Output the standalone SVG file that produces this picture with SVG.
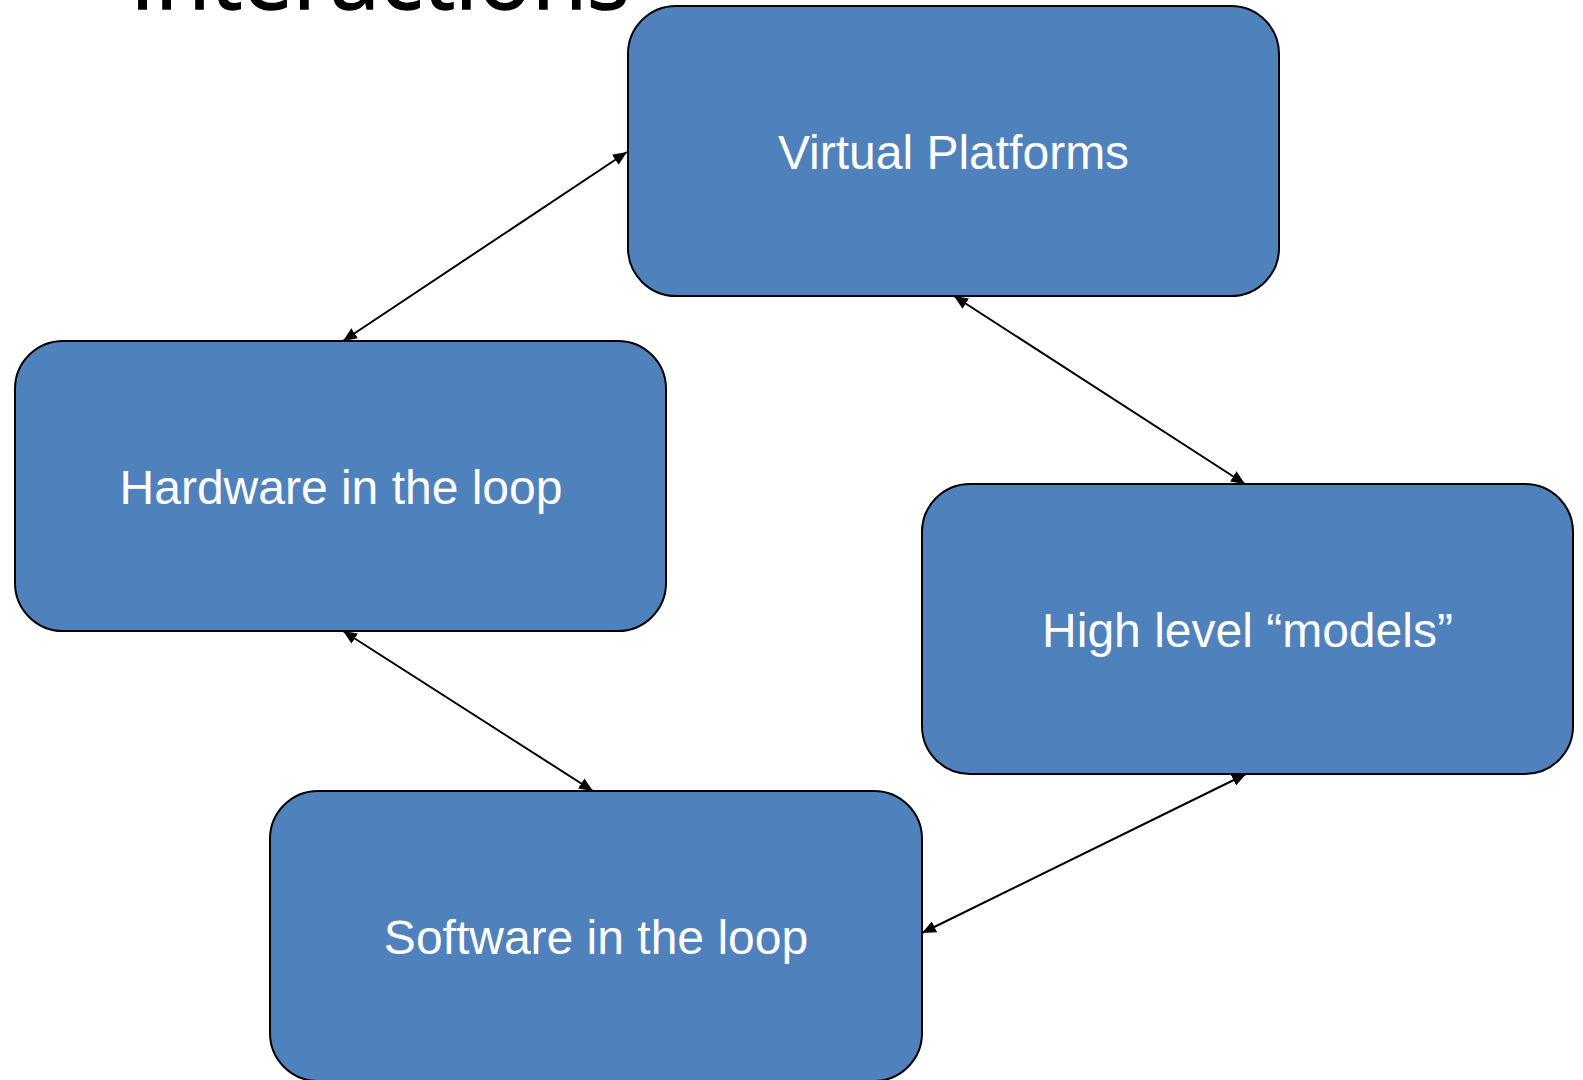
<svg xmlns="http://www.w3.org/2000/svg" width="1583" height="1080" viewBox="0 0 1583 1080">
  <defs>
    <style>
      .box { fill: #4F81BD; stroke: #000; stroke-width: 2; }
      .label { fill: #fff; font-family: "Liberation Sans", Arial, sans-serif; font-size: 48px; text-anchor: middle; }
      .title { fill: #000; stroke: #000; stroke-width: 1.5; font-family: "Open Sans", "Liberation Sans", sans-serif; font-size: 94px; }
      .link { fill: none; stroke: #000; stroke-width: 2; marker-start: url(#arrow); marker-end: url(#arrow); }
    </style>
    <marker id="arrow" markerUnits="userSpaceOnUse" viewBox="0 0 14 12" refX="14" refY="6" markerWidth="14" markerHeight="12" orient="auto-start-reverse">
      <path d="M0,0 L14,6 L0,12 Z" fill="#000"/>
    </marker>
  </defs>

  <rect width="1583" height="1080" fill="#fff"/>

  <!-- page heading, mostly above the visible area -->
  <text class="title" x="130" y="9" textLength="500" lengthAdjust="spacingAndGlyphs">Interactions</text>

  <g id="node-virtual-platforms">
    <rect class="box" x="628" y="6" width="651" height="290" rx="48" ry="48"/>
    <text class="label" x="953.5" y="169">Virtual Platforms</text>
  </g>

  <g id="node-hardware-in-the-loop">
    <rect class="box" x="15" y="341" width="651" height="290" rx="48" ry="48"/>
    <text class="label" x="341" y="504">Hardware in the loop</text>
  </g>

  <g id="node-high-level-models">
    <rect class="box" x="922" y="484" width="651" height="290" rx="48" ry="48"/>
    <text class="label" x="1247.5" y="647">High level “models”</text>
  </g>

  <g id="node-software-in-the-loop">
    <rect class="box" x="270" y="791" width="652" height="290" rx="48" ry="48"/>
    <text class="label" x="596" y="954">Software in the loop</text>
  </g>

  <g id="connectors">
    <path class="link" d="M627,152 L343,341"/>
    <path class="link" d="M954,296 L1245,484"/>
    <path class="link" d="M343,631 L593,791"/>
    <path class="link" d="M1246,774 L922,933"/>
  </g>
</svg>
